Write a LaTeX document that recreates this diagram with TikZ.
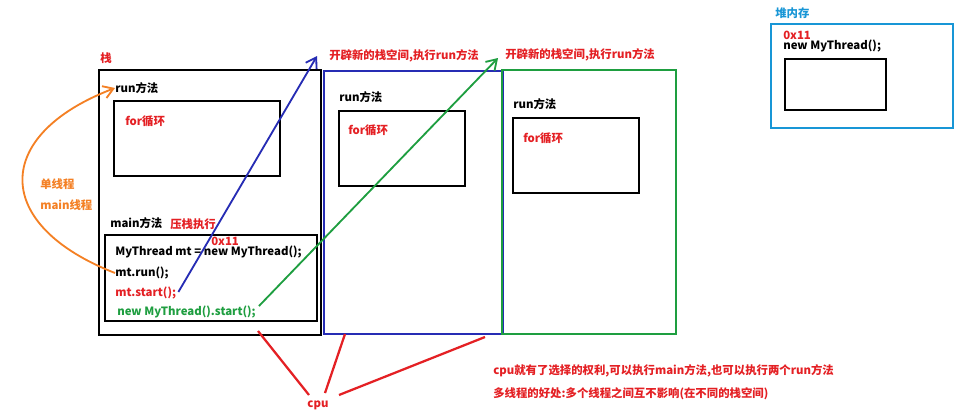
\documentclass[tikz,border=0pt]{standalone}
\usepackage{fontspec}
\setmainfont{Noto Sans CJK SC}
\usetikzlibrary{arrows.meta}
\newlength\px
\setlength\px{0.025cm}
\definecolor{stackred}{RGB}{228,32,36}
\definecolor{threadblue}{RGB}{38,44,180}
\definecolor{threadgreen}{RGB}{30,158,64}
\definecolor{heapcyan}{RGB}{24,150,214}
\definecolor{mainorange}{RGB}{244,128,36}
\tikzset{label text/.style={font=\bfseries\fontsize{8.1}{9.5}\selectfont,inner sep=0pt,anchor=west}}
\tikzset{red text/.style={label text,text=stackred}}
\tikzset{frame box/.style={draw,line width=1.6pt,anchor=north west,inner sep=0pt}}
\tikzset{method box/.style={frame box,minimum width=126\px,minimum height=75\px}}
\tikzset{thread arrow/.style={line width=1.3pt,-{Straight Barb[length=7pt,width=9pt,line width=1.3pt]}}}
\tikzset{cpu line/.style={draw=stackred,line width=1.6pt}}

\begin{document}
\begin{tikzpicture}[x=0.025cm,y=-0.025cm]
\useasboundingbox[fill=white] (0,0) rectangle (958,416);

\node[frame box,minimum width=222\px,minimum height=265\px](stack) at (98,69) {};
\node[frame box,draw=threadblue,minimum width=179\px,minimum height=263\px](bluestack) at (323,70) {};
\node[frame box,draw=threadgreen,minimum width=174\px,minimum height=264\px](greenstack) at (501,69) {};

\node[red text](stacklbl) at (100,58) {栈};
\node[label text](run1) at (115,88) {run方法};
\node[method box,minimum width=166\px](for1box) at (113,100) {};
\node[red text](for1) at (125,121) {for循环};
\node[label text](mainlbl) at (110,223) {main方法};
\node[red text](push) at (170,224) {压栈执行};
\node[frame box,minimum width=212\px,minimum height=86\px](mainbox) at (104,234) {};
\node[red text](addr1) at (211,241) {0x11};
\node[label text](line1) at (115,252) {MyThread mt = new MyThread();};
\node[label text](line2) at (115,273) {mt.run();};
\node[red text](line3) at (115,293) {mt.start();};
\node[label text,text=threadgreen](line4) at (117,312) {new MyThread().start();};

\node[label text,text=mainorange](single) at (40,184) {单线程};
\node[label text,text=mainorange](mainthr) at (40,205) {main线程};

\node[label text](run2) at (339,97) {run方法};
\node[method box](for2box) at (338,110) {};
\node[red text](for2) at (348,130) {for循环};

\node[label text](run3) at (513,104) {run方法};
\node[method box](for3box) at (512,117) {};
\node[red text](for3) at (523,138) {for循环};

\node[red text](title1) at (329,56) {开辟新的栈空间,执行run方法};
\node[red text](title2) at (505,55) {开辟新的栈空间,执行run方法};

\node[label text,text=heapcyan](heaplbl) at (775,13) {堆内存};
\node[frame box,draw=heapcyan,minimum width=182\px,minimum height=104\px](heap) at (770,23) {};
\node[red text](addr2) at (783,35) {0x11};
\node[label text](heapobj) at (783,46) {new MyThread();};
\node[frame box,minimum width=101\px,minimum height=51\px](objbox) at (784,58) {};

\node[red text,anchor=center](cpu) at (318,405) {cpu};
\node[red text](note1) at (493,371) {cpu就有了选择的权利,可以执行main方法,也可以执行两个run方法};
\node[red text](note2) at (493,394) {多线程的好处:多个线程之间互不影响(在不同的栈空间)};

\coordinate (bluetip) at (317,56);
\coordinate (greentip) at (498,58);
\coordinate (c1) at (258,331);
\coordinate (c2) at (345,334);
\coordinate (c3) at (485,337);
\coordinate (k1) at (309,395);
\coordinate (k2) at (325,393);
\coordinate (k3) at (339,395);

\draw[thread arrow,draw=mainorange] (line2.west) .. controls (-8,225) and (-8,135) .. (run1.west);
\draw[thread arrow,draw=threadblue] (line3.east) ++(2,-1) -- (bluetip);
\draw[thread arrow,draw=threadgreen] (line4.east) ++(3,-6) -- (greentip);
\draw[cpu line] (c1) -- (k1);
\draw[cpu line] (c2) -- (k2);
\draw[cpu line] (c3) -- (k3);
\end{tikzpicture}
\end{document}
